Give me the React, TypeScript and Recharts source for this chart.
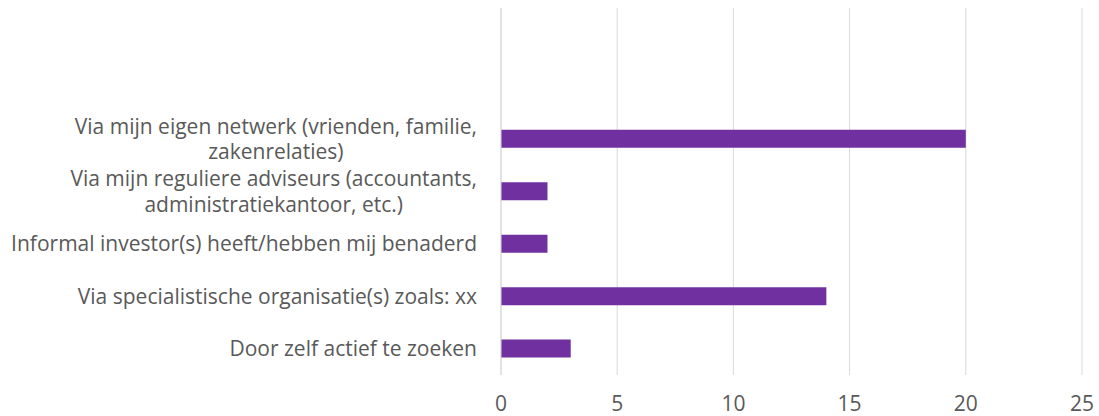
import React from 'react';
import { BarChart, Bar, XAxis, YAxis, CartesianGrid } from 'recharts';

const categories: string[] = [
  '',
  '',
  'Via mijn eigen netwerk (vrienden, familie, zakenrelaties)',
  'Via mijn reguliere adviseurs (accountants, administratiekantoor, etc.)',
  'Informal investor(s) heeft/hebben mij benaderd',
  'Via specialistische organisatie(s) zoals: xx',
  'Door zelf actief te zoeken',
];
const values: (number | null)[] = [null, null, 20, 2, 2, 14, 3];
const xTicks: number[] = [0, 5, 10, 15, 20, 25];

const data = categories.map((name, i) => ({ key: String(i), name, value: values[i] }));

const FONT = '"Open Sans", sans-serif';
const FS = 21;
const LH = 25.5;
const WRAP = 490;
const TEXT = '#595959';

let ctx: CanvasRenderingContext2D | null = null;
function measure(t: string): number {
  if (!ctx) ctx = document.createElement('canvas').getContext('2d');
  if (!ctx) return t.length * FS * 0.5;
  ctx.font = `${FS}px "Open Sans"`;
  return ctx.measureText(t).width;
}
function wrap(t: string): string[] {
  const words = t.split(' ');
  const lines: string[] = [];
  let cur = '';
  for (const w of words) {
    const next = cur ? cur + ' ' + w : w;
    if (cur && measure(next) > WRAP) {
      lines.push(cur);
      cur = w;
    } else cur = next;
  }
  if (cur) lines.push(cur);
  return lines;
}

const YTick = (props: any) => {
  const { x, y, payload } = props;
  const label = categories[Number(payload.value)] ?? '';
  if (!label) return <g />;
  const lines = wrap(label);
  const maxW = Math.max(...lines.map(measure));
  const multi = lines.length > 1;
  const startY = y - ((lines.length - 1) * LH) / 2;
  return (
    <text fill={TEXT} fontFamily={FONT} fontSize={FS}>
      {lines.map((l, i) => (
        <tspan
          key={i}
          x={multi ? x - maxW / 2 : x}
          y={startY + i * LH}
          dy="0.35em"
          textAnchor={multi ? 'middle' : 'end'}
        >
          {l}
        </tspan>
      ))}
    </text>
  );
};

export default function App() {
  return (
    <div style={{ position: 'absolute', left: 0, top: 0, background: '#fff' }}>
      <BarChart
        width={1099}
        height={416}
        data={data}
        layout="vertical"
        margin={{ top: 8, right: 17, bottom: 0, left: 0 }}
      >
        <CartesianGrid horizontal={false} stroke="#d9d9d9" strokeWidth={1} />
        <XAxis
          type="number"
          domain={[0, 25]}
          ticks={xTicks}
          axisLine={false}
          tickLine={false}
          height={41}
          tickMargin={15}
          tick={{ fill: TEXT, fontFamily: FONT, fontSize: FS }}
        />
        <YAxis
          type="category"
          dataKey="key"
          width={501}
          axisLine={{ stroke: '#d9d9d9', strokeWidth: 1 }}
          tickLine={false}
          tickMargin={18}
          tick={YTick}
          interval={0}
        />
        <Bar dataKey="value" fill="#7030A0" barSize={18} isAnimationActive={false} />
      </BarChart>
    </div>
  );
}
